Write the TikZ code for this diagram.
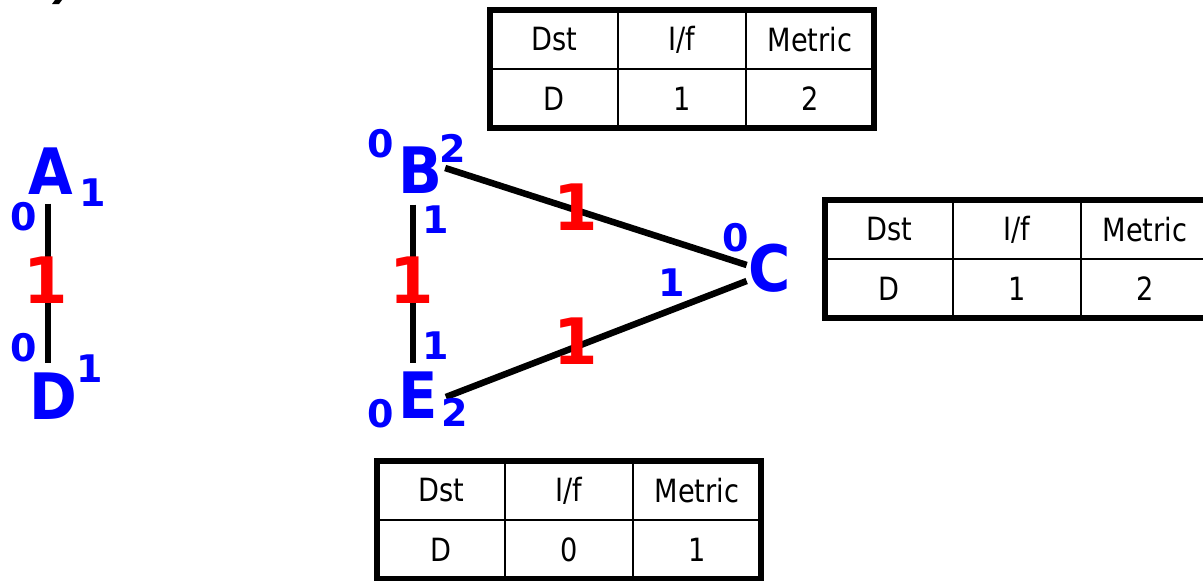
\documentclass[tikz,border=0pt]{standalone}
\usepackage{fontspec}
\setmainfont{DejaVu Sans}
\newfontfamily\tabfont[FakeStretch=0.85]{DejaVu Sans}
\newfontfamily\letterfont[FakeStretch=0.9]{DejaVu Sans}
\definecolor{myblue}{RGB}{0,0,255}
\definecolor{myred}{RGB}{255,0,0}
\newcommand\dvtable[5]{%
  \begin{scope}[shift={(#2,#3)}]
    \draw[innerline] (128,0) -- (128,118) (256,0) -- (256,118) (0,59) -- (384,59);
    \draw[outerline] (0,0) rectangle (384,118);
    \node[cell] (#1-h1) at (64,29.5) {Dst};
    \node[cell] (#1-h2) at (192,29.5) {I/f};
    \node[cell] (#1-h3) at (320,29.5) {Metric};
    \node[cell] (#1-v1) at (64,88.5) {D};
    \node[cell] (#1-v2) at (192,88.5) {#4};
    \node[cell] (#1-v3) at (320,88.5) {#5};
  \end{scope}}
\begin{document}
\begin{tikzpicture}[x=1pt,y=-1pt,
  lbl/.style={font=\letterfont\bfseries\fontsize{64}{64}\selectfont, text=myblue, inner sep=0pt},
  cost/.style={font=\bfseries\fontsize{64}{64}\selectfont, text=myred, inner sep=0pt},
  port/.style={font=\bfseries\fontsize{38}{38}\selectfont, text=myblue, inner sep=0pt},
  link/.style={line width=6.5pt, draw=black},
  cell/.style={font=\tabfont\fontsize{32}{32}\selectfont, inner sep=0pt},
  outerline/.style={line width=5.5pt},
  innerline/.style={line width=2.5pt}]
\useasboundingbox (0,0) rectangle (1203,581);
% fragment at top-left
\fill (52,4) -- (55,0) -- (62,0) -- (59,4) -- cycle;

% left pair A - D
\node[lbl] (A) at (51,171) {A};
\node[lbl] (D) at (53,396) {D};
\draw[link, shorten <=9pt, shorten >=9pt] ([xshift=-3pt]A.south) -- ([xshift=-5pt]D.north);
\node[cost] (cAD) at (46,280) {1};
\node[port] (pA0) at (24,217) {0};
\node[port] (pA1) at (93,193) {1};
\node[port] (pD0) at (24,348) {0};
\node[port] (pD1) at (90,369) {1};

% triangle B, E, C
\node[lbl] (B) at (420,170) {B};
\node[lbl] (E) at (418,395) {E};
\node[lbl] (C) at (770,268) {C};
\draw[link, shorten <=11pt, shorten >=8pt] ([xshift=-7pt]B.south) -- ([xshift=-5pt]E.north);
\draw[link] ([shift={(3pt,2pt)}]B.east) -- ([shift={(-2pt,3pt)}]C.west);
\draw[link] ([shift={(8pt,-2pt)}]E.east) -- ([shift={(-2pt,-13pt)}]C.west);
\node[cost] (cBE) at (412,280) {1};
\node[cost] (cBC) at (576,207) {1};
\node[cost] (cEC) at (576,341) {1};
\node[port] (pB0) at (381,144) {0};
\node[port] (pB2) at (453,148) {2};
\node[port] (pB1) at (436,220) {1};
\node[port] (pE1) at (436,346) {1};
\node[port] (pE0) at (381,414) {0};
\node[port] (pE2) at (455,412) {2};
\node[port] (pC0) at (736,238) {0};
\node[port] (pC1) at (672,283) {1};

% tables
\dvtable{tB}{490}{10}{1}{2}
\dvtable{tC}{825}{200}{1}{2}
\dvtable{tE}{377}{461}{0}{1}
\end{tikzpicture}
\end{document}
